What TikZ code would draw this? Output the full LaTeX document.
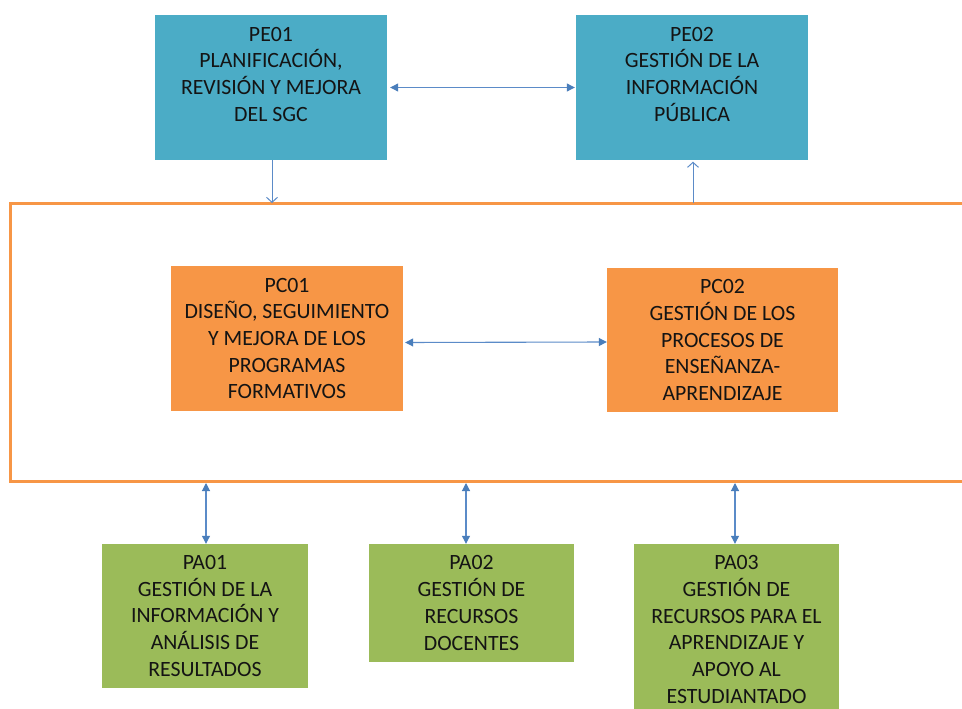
\documentclass[tikz,border=0pt]{standalone}
\usepackage{fontspec}
\setmainfont{Carlito}
\usetikzlibrary{arrows.meta}
\definecolor{teal}{HTML}{4BACC6}
\definecolor{orng}{HTML}{F79646}
\definecolor{grn}{HTML}{9BBB59}
\definecolor{lnk}{HTML}{5B8BC8}
\definecolor{tip}{HTML}{4A7EBB}
\definecolor{txt}{HTML}{141414}
\tikzset{
  box/.style={draw=none, inner sep=0pt, align=center, text=txt,
    font=\fontsize{21.8}{26.7}\selectfont},
  pebox/.style={box, fill=teal, minimum width=232pt, minimum height=145pt},
  pcbox/.style={box, fill=orng, minimum width=232pt, minimum height=145pt},
  pabox/.style={box, fill=grn, minimum width=206pt},
  dbl/.style={draw=lnk, line width=1.1pt, {Triangle[length=8pt,width=8pt,color=tip]}-{Triangle[length=8pt,width=8pt,color=tip]}},
  sgl/.style={draw=lnk, line width=1pt, -{Straight Barb[length=5pt,width=11pt]}},
  frame/.style={draw=orng, line width=3pt}
}
\begin{document}
\begin{tikzpicture}[x=1pt,y=-1pt]
\useasboundingbox (0,0) rectangle (962,709);
\clip (0,0) rectangle (962,709);
\fill[white] (0,0) rectangle (962,709);
% frame
\coordinate (ftop) at (0,203);
\coordinate (fbot) at (0,481);
\draw[frame] (975,203) -| (10,481) -- (975,481);
% boxes
\node[pebox] (pe01) at (271,87.5) {PE01\\PLANIFICACIÓN,\\REVISIÓN Y MEJORA\\DEL SGC\\ };
\node[pebox] (pe02) at (692,87.5) {PE02\\GESTIÓN DE LA\\INFORMACIÓN\\PÚBLICA\\ };
\node[pcbox] (pc01) at (287,338.5) {PC01\\DISEÑO, SEGUIMIENTO\\Y MEJORA DE LOS\\PROGRAMAS\\FORMATIVOS};
\node[pcbox, minimum width=231pt, minimum height=144pt] (pc02) at (722.5,340) {PC02\\GESTIÓN DE LOS\\PROCESOS DE\\ENSEÑANZA-\\APRENDIZAJE};
\node[pabox, minimum height=144pt] (pa01) at (205,616) {PA01\\GESTIÓN DE LA\\INFORMACIÓN Y\\ANÁLISIS DE\\RESULTADOS};
\node[pabox, minimum width=205pt, minimum height=118pt] (pa02) at (471.5,603) {PA02\\GESTIÓN DE\\RECURSOS\\DOCENTES};
\node[pabox, minimum width=205pt, minimum height=171pt] (pa03) at (736.5,629.5) {PA03\\GESTIÓN DE\\RECURSOS PARA EL\\APRENDIZAJE Y\\APOYO AL\\ESTUDIANTADO};
% connectors
\draw[dbl, shorten <=3pt, shorten >=1pt] (pe01.east) -- (pe02.west);
\draw[dbl, shorten <=2pt] ([yshift=-4pt]pc01.east) -- ([yshift=-2pt]pc02.west);
\draw[sgl] ([xshift=1pt]pe01.south) -- ([xshift=1pt]pe01.south |- ftop);
\draw[sgl, shorten >=1.5pt] ([xshift=1pt]pe02.south |- ftop) -- ([xshift=1pt]pe02.south);
\draw[dbl, shorten <=2pt] ([xshift=1pt]pa01.north |- fbot) -- ([xshift=1pt]pa01.north);
\draw[dbl, shorten <=2pt] ([xshift=-5.5pt]pa02.north |- fbot) -- ([xshift=-5.5pt]pa02.north);
\draw[dbl, shorten <=2pt] ([xshift=-1.5pt]pa03.north |- fbot) -- ([xshift=-1.5pt]pa03.north);
\end{tikzpicture}
\end{document}
